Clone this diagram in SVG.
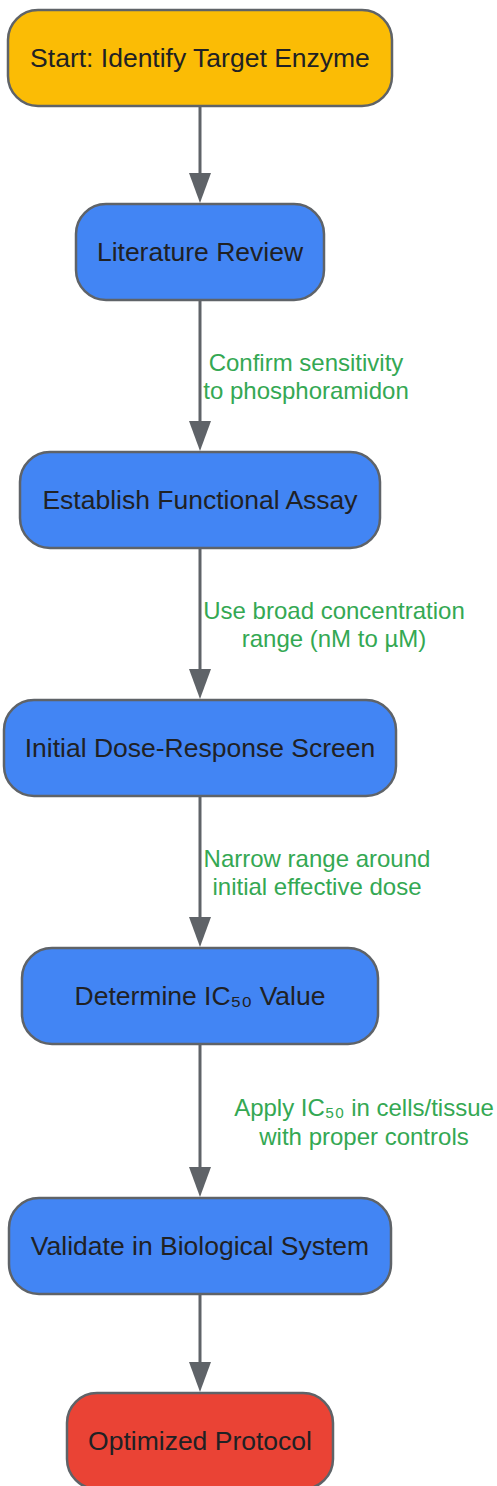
<svg xmlns="http://www.w3.org/2000/svg" width="497" height="1486" viewBox="0 0 497 1486">
<defs>
<marker id="ah" markerWidth="30" markerHeight="22" refX="20" refY="11" orient="auto" markerUnits="userSpaceOnUse" viewBox="0 0 30 22">
<path d="M0,0 L30,11 L0,22 Z" fill="#5f6368"/>
</marker>
<style>
.n rect{stroke:#5f6368;stroke-width:2.5}
.n text{font-family:"Liberation Sans",Arial,sans-serif;font-size:26.5px;fill:#202124;text-anchor:middle}
.e line{stroke:#5f6368;stroke-width:3}
.e text{font-family:"Liberation Sans",Arial,sans-serif;font-size:24px;fill:#34A853;text-anchor:middle}
</style>
</defs>
<rect width="497" height="1486" fill="#ffffff"/>
<g id="connectors" class="e">
<line x1="200" y1="106" x2="200" y2="193" marker-end="url(#ah)"/>
<line x1="200" y1="300" x2="200" y2="441" marker-end="url(#ah)"/>
<line x1="200" y1="548" x2="200" y2="689" marker-end="url(#ah)"/>
<line x1="200" y1="796" x2="200" y2="937" marker-end="url(#ah)"/>
<line x1="200" y1="1044" x2="200" y2="1187" marker-end="url(#ah)"/>
<line x1="200" y1="1294" x2="200" y2="1382" marker-end="url(#ah)"/>
<text x="306" y="371">Confirm sensitivity</text>
<text x="306" y="399">to phosphoramidon</text>
<text x="334" y="619">Use broad concentration</text>
<text x="334" y="647">range (nM to µM)</text>
<text x="317" y="867">Narrow range around</text>
<text x="317" y="895">initial effective dose</text>
<text x="364" y="1116">Apply IC₅₀ in cells/tissue</text>
<text x="364" y="1145">with proper controls</text>
</g>
<g id="n1" class="n"><rect x="8" y="10" width="384" height="96" rx="30" fill="#FBBC05"/><text x="200" y="67">Start: Identify Target Enzyme</text></g>
<g id="n2" class="n"><rect x="76" y="204" width="248" height="96" rx="30" fill="#4285F4"/><text x="200" y="261">Literature Review</text></g>
<g id="n3" class="n"><rect x="20" y="452" width="360" height="96" rx="30" fill="#4285F4"/><text x="200" y="509">Establish Functional Assay</text></g>
<g id="n4" class="n"><rect x="4" y="700" width="392" height="96" rx="30" fill="#4285F4"/><text x="200" y="757">Initial Dose-Response Screen</text></g>
<g id="n5" class="n"><rect x="22" y="948" width="356" height="96" rx="30" fill="#4285F4"/><text x="200" y="1005">Determine IC₅₀ Value</text></g>
<g id="n6" class="n"><rect x="9" y="1198" width="382" height="96" rx="30" fill="#4285F4"/><text x="200" y="1255">Validate in Biological System</text></g>
<g id="n7" class="n"><rect x="67" y="1393" width="266" height="96" rx="30" fill="#EA4335"/><text x="200" y="1450">Optimized Protocol</text></g>
</svg>
